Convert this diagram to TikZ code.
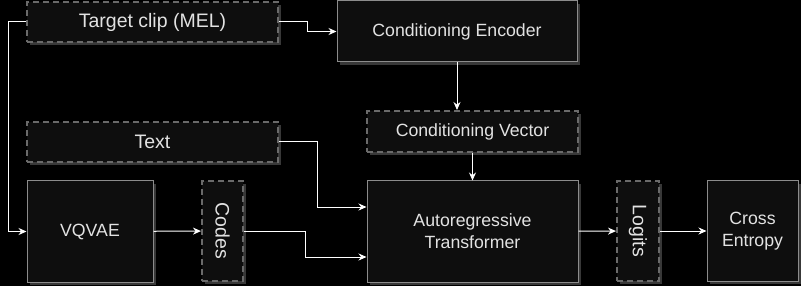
\documentclass[tikz,border=0pt]{standalone}
\usepackage{fontspec}
\setmainfont{Liberation Sans}
\usepackage{graphicx}
\usetikzlibrary{arrows.meta,shadows}
\definecolor{boxfill}{HTML}{0E0E0E}
\definecolor{boxline}{HTML}{8C8C8C}
\definecolor{dashline}{HTML}{6A6A6A}
\definecolor{shadowgray}{HTML}{383838}
\definecolor{labeltext}{HTML}{E2E2E2}
\tikzset{
blockbox/.style={draw=boxline, fill=boxfill, line width=1pt, text=labeltext, align=center, inner sep=0pt, font=\fontsize{17.7}{22}\selectfont, general shadow={fill=shadowgray, shadow xshift=3pt, shadow yshift=-3pt}},
databox/.style={blockbox, draw=dashline, line width=2pt, dash pattern=on 6pt off 4pt, font=\fontsize{19.5}{23}\selectfont},
flowarrow/.style={-{Stealth[length=8pt,width=7pt]}, draw=white, line width=1pt}
}
\begin{document}
\begin{tikzpicture}[x=1pt,y=-1pt]
\fill[black] (0,0) rectangle (801,286);
\useasboundingbox (0,0) rectangle (801,286);

\node[databox, minimum width=251pt, minimum height=40pt] (target) at (152.5,22) {Target clip (MEL)};
\node[blockbox, minimum width=240pt, minimum height=61pt] (encoder) at (457,31.5) {Conditioning Encoder};
\node[databox, minimum width=211pt, minimum height=41pt, font=\fontsize{17.7}{22}\selectfont] (condvec) at (472.5,131.5) {Conditioning Vector};
\node[databox, minimum width=251pt, minimum height=40pt] (textin) at (152.5,142) {Text};
\node[blockbox, minimum width=126pt, minimum height=101pt] (vqvae) at (90,231.5) {VQVAE};
\node[databox, minimum width=41pt, minimum height=100pt] (codes) at (222.5,231) {\rotatebox{-90}{Codes}};
\node[blockbox, minimum width=211pt, minimum height=101pt] (transformer) at (472.5,231.5) {Autoregressive\\Transformer};
\node[databox, minimum width=42pt, minimum height=100pt] (logits) at (638,231) {\rotatebox{-90}{Logits}};
\node[blockbox, minimum width=91pt, minimum height=100pt] (entropy) at (752.5,231) {Cross\\Entropy};

\coordinate (clipleft) at (8,22);
\coordinate (clipright) at (307,22);
\coordinate (textturn) at (317,142);
\coordinate (codesturn) at (305,231);
\draw[flowarrow] (target.west) -- (clipleft) |- (vqvae.west);
\draw[flowarrow] (target.east) -- (clipright) |- (encoder.west);
\draw[flowarrow] (encoder.south) -- (encoder.south |- condvec.north);
\draw[flowarrow] (condvec.south) -- (transformer.north);
\draw[flowarrow] (textin.east) -- (textturn) |- ([yshift=24.5pt]transformer.west);
\draw[flowarrow] (vqvae) -- (codes);
\draw[flowarrow] (codes.east) -- (codesturn) |- ([yshift=-25.5pt]transformer.west);
\draw[flowarrow] (transformer) -- (logits);
\draw[flowarrow] (logits) -- (entropy);
\end{tikzpicture}
\end{document}
